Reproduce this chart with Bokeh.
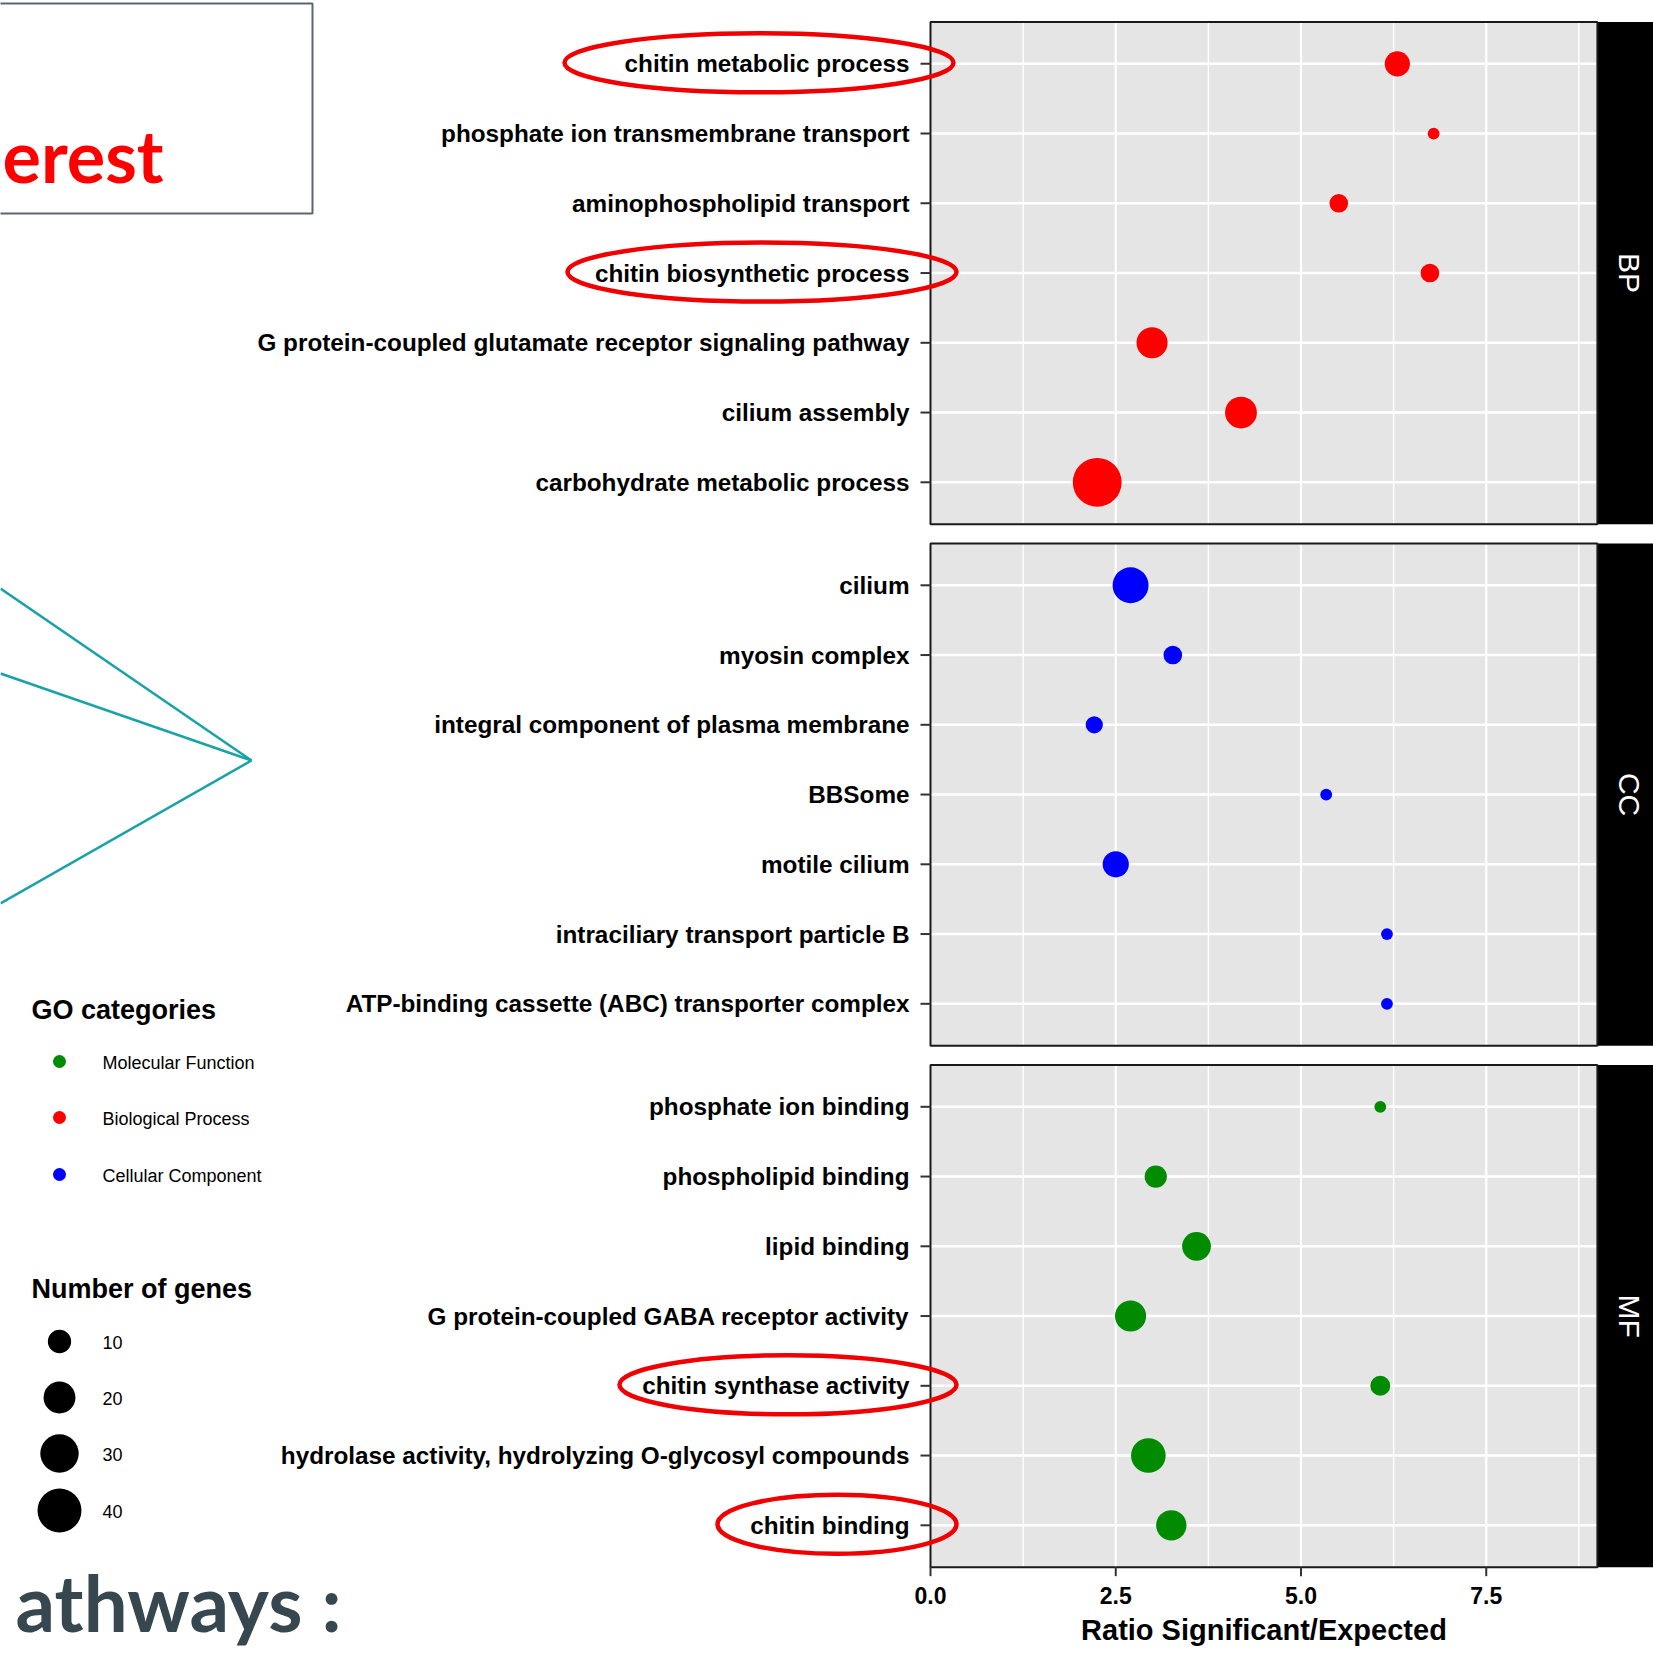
import numpy as np
from bokeh.plotting import figure
from bokeh.models import Range1d
from bokeh.core.properties import value
from bokeh.embed import file_html
from bokeh.resources import INLINE

# ---------------- data ----------------
bp_terms = ["chitin metabolic process",
            "phosphate ion transmembrane transport",
            "aminophospholipid transport",
            "chitin biosynthetic process",
            "G protein-coupled glutamate receptor signaling pathway",
            "cilium assembly",
            "carbohydrate metabolic process"]
bp_ratio = [6.30, 6.79, 5.51, 6.74, 2.99, 4.19, 2.25]
bp_genes = [12, 2, 6, 6, 19, 20, 50]

cc_terms = ["cilium",
            "myosin complex",
            "integral component of plasma membrane",
            "BBSome",
            "motile cilium",
            "intraciliary transport particle B",
            "ATP-binding cassette (ABC) transporter complex"]
cc_ratio = [2.70, 3.27, 2.21, 5.34, 2.50, 6.16, 6.16]
cc_genes = [26, 6, 5, 2, 13, 2, 2]

mf_terms = ["phosphate ion binding",
            "phospholipid binding",
            "lipid binding",
            "G protein-coupled GABA receptor activity",
            "chitin synthase activity",
            "hydrolase activity, hydrolyzing O-glycosyl compounds",
            "chitin binding"]
mf_ratio = [6.07, 3.04, 3.59, 2.70, 6.07, 2.94, 3.25]
mf_genes = [2, 9, 16, 19, 7, 24, 18]

facets = ["BP", "CC", "MF"]
facet_colors = ["#FF0000", "#0000FF", "#008B00"]
x_ticks = [0.0, 2.5, 5.0, 7.5]
x_tick_labels = ["0.0", "2.5", "5.0", "7.5"]
x_minor = [1.25, 3.75, 6.25, 8.75]
x_max = 9.0
x_title = "Ratio Significant/Expected"

legend_cat_labels = ["Molecular Function", "Biological Process", "Cellular Component"]
legend_cat_colors = ["#008B00", "#FF0000", "#0000FF"]
legend_gene_breaks = [10, 20, 30, 40]
highlighted = ["chitin metabolic process", "chitin biosynthetic process",
               "chitin synthase activity", "chitin binding"]


def gene_size(n):
    return 2.6 + 6.54 * np.sqrt(np.asarray(n, dtype=float))


# ---------------- figure ----------------
W, H = 1653, 1654
p = figure(width=W, height=H, x_range=Range1d(0, W), y_range=Range1d(H, 0),
           x_axis_type=None, y_axis_type=None, min_border=0, toolbar_location=None,
           output_backend="svg", outline_line_color=None,
           background_fill_color="white", border_fill_color="white")
p.grid.visible = False

X0, PXU = 930.0, 74.1
Y0, PYU = 21.45, 69.75
p.extra_x_ranges = {"ratio": Range1d((0 - X0) / PXU, (W - X0) / PXU)}
p.extra_y_ranges = {"rows": Range1d((H - Y0) / PYU, (0 - Y0) / PYU)}
R = dict(x_range_name="ratio", y_range_name="rows")

GAP = 19.3 / PYU
groups = [(bp_terms, bp_ratio, bp_genes), (cc_terms, cc_ratio, cc_genes), (mf_terms, mf_ratio, mf_genes)]
panel_h = [len(g[0]) + 0.2 for g in groups]
tops = []
acc = 0.0
for h in panel_h:
    tops.append(acc)
    acc += h + GAP
bottoms = [t + h for t, h in zip(tops, panel_h)]

# panel background
p.quad(left=0, right=x_max, top=tops, bottom=bottoms, fill_color="#E5E5E5", line_color=None, **R)

# grid
gx, gy0, gy1, gw = [], [], [], []
for t, b in zip(tops, bottoms):
    for xv in x_minor:
        gx.append(xv); gy0.append(t); gy1.append(b); gw.append(1.4)
    for xv in x_ticks[1:]:
        gx.append(xv); gy0.append(t); gy1.append(b); gw.append(2.2)
p.segment(x0=gx, x1=gx, y0=gy0, y1=gy1, line_color="white", line_width=gw, **R)

row_y = {}
all_terms, all_y = [], []
for (terms, ratio, genes), t in zip(groups, tops):
    for i, term in enumerate(terms):
        y = t + 0.6 + i
        row_y[term] = y
        all_terms.append(term)
        all_y.append(y)
p.segment(x0=0, x1=x_max, y0=all_y, y1=all_y, line_color="white", line_width=2.4, **R)

# strips
p.quad(left=x_max, right=x_max + 2, top=tops, bottom=bottoms, fill_color="black", line_color=None, **R)
p.text(x=x_max, y=[(t + b) / 2 for t, b in zip(tops, bottoms)], text=facets, x_offset=32,
       angle=-np.pi / 2, text_align="center", text_baseline="middle",
       text_font=value("Liberation Sans"), text_font_size="30px", text_color="white", **R)

# points
for (terms, ratio, genes), col in zip(groups, facet_colors):
    p.scatter(x=ratio, y=[row_y[t] for t in terms], size=gene_size(genes),
              fill_color=col, line_color=None, **R)

# panel border
p.quad(left=0, right=x_max, top=tops, bottom=bottoms, fill_color=None,
       line_color="#1a1a1a", line_width=2, **R)

# y ticks & labels
p.segment(x0=-10 / PXU, x1=0, y0=all_y, y1=all_y, line_color="#333333", line_width=2, **R)
p.text(x=0, y=all_y, text=all_terms, x_offset=-21, text_align="right", text_baseline="middle",
       text_font=value("Liberation Sans"), text_font_style="bold", text_font_size="24.3px",
       text_color="black", **R)

# x ticks & labels
mfb = bottoms[-1]
p.segment(x0=x_ticks, x1=x_ticks, y0=mfb, y1=mfb + 9 / PYU, line_color="#333333", line_width=2, **R)
p.text(x=x_ticks, y=mfb, text=x_tick_labels, y_offset=28, text_align="center", text_baseline="middle",
       text_font=value("Liberation Sans"), text_font_style="bold", text_font_size="23px",
       text_color="black", **R)
p.text(x=[x_max / 2], y=[mfb], text=[x_title], y_offset=63, text_align="center", text_baseline="middle",
       text_font=value("Liberation Sans"), text_font_style="bold", text_font_size="29px",
       text_color="black", **R)

# ---------------- slide decorations (reference pixel space) ----------------
# red ellipses around highlighted terms
ell_cx = [758.5, 761.5, 787.5, 836.5]
ell_w = [389, 389, 337, 239]
ell_y = [Y0 + PYU * row_y[t] - 1 for t in highlighted]
p.ellipse(x=ell_cx, y=ell_y, width=ell_w, height=59, fill_color=None,
          line_color="#F00000", line_width=4.5)

# box with cut "erest"
p.quad(left=-20, right=312, top=3, bottom=213, fill_color=None, line_color="#5b6770", line_width=2)
p.text(x=[2], y=[154], text=["erest"], text_align="left", text_baseline="middle",
       text_font=value("Lato"), text_font_style="bold", text_font_size="72px",
       text_color="#FF0000")

# cyan connector lines
p.segment(x0=[0, 0, 0], y0=[588, 673, 903], x1=251, y1=760, line_color="#18A3A7", line_width=2.5)

# legend: GO categories
p.text(x=[31], y=[1009], text=["GO categories"], text_baseline="middle",
       text_font=value("Liberation Sans"), text_font_style="bold", text_font_size="27px", text_color="black")
cat_y = [1061, 1117, 1174]
p.scatter(x=59, y=cat_y, size=13, fill_color=legend_cat_colors, line_color=None)
p.text(x=102, y=[v + 1 for v in cat_y], text=legend_cat_labels, text_baseline="middle",
       text_font=value("Liberation Sans"), text_font_size="18px", text_color="black")

# legend: Number of genes
p.text(x=[31], y=[1288], text=["Number of genes"], text_baseline="middle",
       text_font=value("Liberation Sans"), text_font_style="bold", text_font_size="27px", text_color="black")
gene_y = [1341, 1397, 1453, 1510]
p.scatter(x=59, y=gene_y, size=gene_size(legend_gene_breaks), fill_color="black", line_color=None)
p.text(x=102, y=[v + 1 for v in gene_y], text=[str(b) for b in legend_gene_breaks], text_baseline="middle",
       text_font=value("Liberation Sans"), text_font_size="18px", text_color="black")

# slide heading at bottom
p.text(x=[341], y=[1601], text=["athways :"], text_align="right", text_baseline="middle",
       text_font=value("Lato"), text_font_style="bold", text_font_size="78px",
       text_color="#37474F")

open("out.html", "w").write(file_html(p, INLINE))
